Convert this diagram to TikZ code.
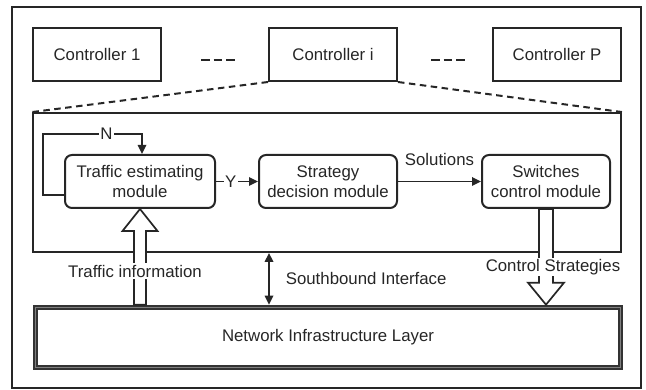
\documentclass[tikz,border=0pt]{standalone}
\usepackage{fontspec}
\setmainfont{Liberation Sans}
\usetikzlibrary{arrows.meta,calc}
\begin{document}
\begin{tikzpicture}[x=1pt,y=-1pt,
  font=\fontsize{16.8}{20}\selectfont,
  every node/.style={inner sep=0pt,text=black!85},
  ctrlbox/.style={draw=black!85,line width=2pt,minimum width=128pt,minimum height=53pt},
  modbox/.style={draw=black!85,line width=2pt,rounded corners=7pt,align=center,
    minimum height=53pt},
  layerbox/.style={draw=black!85,line width=1.9pt},
  netbox/.style={draw=black!80,line width=2pt,double=black!50,double distance=1.6pt,
    outer sep=0pt},
  link/.style={draw=black!85,line width=1.7pt,-{Triangle[length=9pt,width=8.5pt]}},
  biglink/.style={draw=black!85,line width=1.7pt,{Triangle[length=9pt,width=8.5pt]}-{Triangle[length=9pt,width=8.5pt]}},
  zoomline/.style={draw=black!85,line width=2pt,dash pattern=on 6.5pt off 4.5pt},
  ellipsis/.style={draw=black!85,line width=2.2pt,dash pattern=on 8.5pt off 4pt},
  hollow/.style={draw=black!85,line width=1.7pt,fill=white,line join=miter},
  tag/.style={fill=white,inner sep=1.5pt}]

\useasboundingbox (0,0) rectangle (646,390);
\draw[line width=1.6pt,black!85] (12,7) rectangle (641,388);

% controllers
\node[ctrlbox] (c1) at (97,54.5) {Controller 1};
\node[ctrlbox] (ci) at (333,54.5) {Controller i};
\node[ctrlbox] (cp) at (557,54.5) {Controller P};
\coordinate (e1a) at (201,60); \coordinate (e1b) at (235,60);
\coordinate (e2a) at (431,60); \coordinate (e2b) at (465,60);
\draw[ellipsis] (e1a) -- (e1b);
\draw[ellipsis] (e2a) -- (e2b);

% expanded controller
\node[layerbox,minimum width=588pt,minimum height=139pt] (ctl) at (327,182.5) {};
\draw[zoomline] (ci.south west) -- (ctl.north west);
\draw[zoomline] (ci.south east) -- (ctl.north east);

% modules
\node[modbox,minimum width=150pt] (tem) at (140,181.5) {Traffic estimating\\module};
\node[modbox,minimum width=138pt] (sdm) at (328,181.5) {Strategy\\decision module};
\node[modbox,minimum width=128pt] (scm) at (546,181.5) {Switches\\control module};

% feedback loop
\coordinate (lp) at ($(tem.south west)+(0,-14)$);
\draw[link] (lp) -- ++(-21,0) |- node[tag,pos=0.82]{N} ($(tem.north)+(2,-20)$)
  -- ($(tem.north)+(2,0)$);
\draw[link] (tem.east) -- node[tag,pos=0.35]{Y} (sdm.west);
\draw[link] (sdm.east) -- node[above=15pt]{Solutions} (scm.west);

% infrastructure layer
\node[netbox,minimum width=585pt,minimum height=60pt] (net) at (328,337.5)
  {Network Infrastructure Layer};

% traffic information (up)
\coordinate (ua) at (tem.south);
\coordinate (ub) at ($(net.north -| tem.south)+(0,-2.8)$);
\draw[hollow] (ua) -- ($(ua)+(17.5,22)$) -- ($(ua)+(6,22)$) -- ($(ub)+(6,0)$)
  -- ($(ub)+(-6,0)$) -- ($(ua)+(-6,22)$) -- ($(ua)+(-17.5,22)$) -- cycle;
\node[tag] (ti) at (135,271) {Traffic information};

% control strategies (down)
\coordinate (da) at (scm.south);
\coordinate (db) at ($(net.north -| scm.south)+(0,-2.8)$);
\draw[hollow] (db) -- ($(db)+(18,-22)$) -- ($(db)+(7,-22)$) -- ($(da)+(7,0)$)
  -- ($(da)+(-7,0)$) -- ($(db)+(-7,-22)$) -- ($(db)+(-18,-22)$) -- cycle;
\node[tag] (cs) at (553,267) {Control Strategies};

% southbound interface
\coordinate (sb) at (269,0);
\draw[biglink] (ctl.south -| sb) -- node[right=16pt]{Southbound Interface}
  ($(net.north -| sb)+(0,-2.8)$);
\end{tikzpicture}
\end{document}
